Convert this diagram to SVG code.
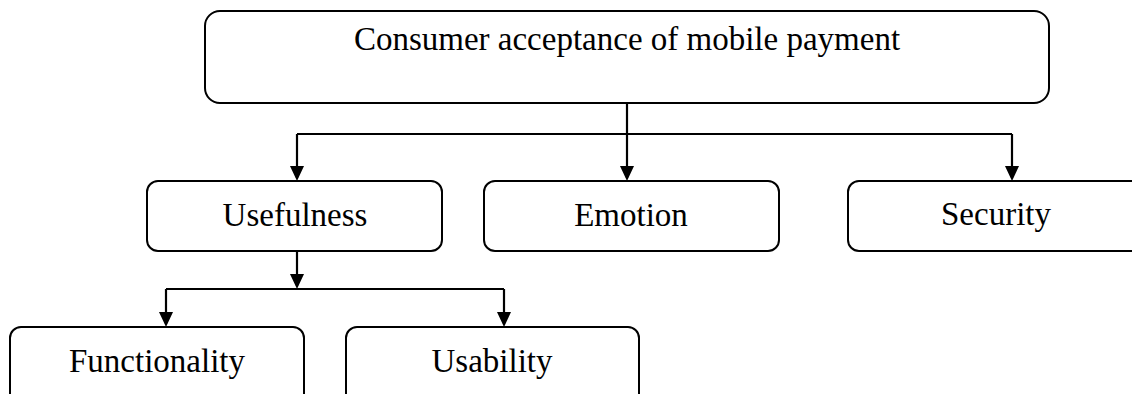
<svg xmlns="http://www.w3.org/2000/svg" width="1132" height="394" viewBox="0 0 1132 394">
  <style>
    .box { fill: #ffffff; stroke: #000000; stroke-width: 2; }
    .lbl { font-family: "Liberation Serif", "Times New Roman", serif; font-size: 33px; fill: #000000; text-anchor: middle; }
    .conn { fill: none; stroke: #000000; stroke-width: 2.2; }
  </style>
  <defs>
    <marker id="arrow" markerUnits="userSpaceOnUse" markerWidth="16" markerHeight="14" refX="12" refY="7" orient="auto">
      <path d="M0,0 L15,7 L0,14 z" fill="#000000"/>
    </marker>
  </defs>
  <rect width="1132" height="394" fill="#ffffff"/>

  <g id="connectors">
    <path class="conn" d="M627,103 V178" marker-end="url(#arrow)"/>
    <path class="conn" d="M297,134 H1012"/>
    <path class="conn" d="M297,134 V178" marker-end="url(#arrow)"/>
    <path class="conn" d="M1012,134 V178" marker-end="url(#arrow)"/>
    <path class="conn" d="M297,251 V286" marker-end="url(#arrow)"/>
    <path class="conn" d="M166,289 H504"/>
    <path class="conn" d="M166,289 V324" marker-end="url(#arrow)"/>
    <path class="conn" d="M504,289 V324" marker-end="url(#arrow)"/>
  </g>

  <g id="node-consumer-acceptance">
    <rect class="box" x="205" y="11" width="844" height="92" rx="15" ry="15"/>
    <text class="lbl" x="627" y="50">Consumer acceptance of mobile payment</text>
  </g>
  <g id="node-usefulness">
    <rect class="box" x="147" y="181" width="295" height="70" rx="11" ry="11"/>
    <text class="lbl" x="295" y="226">Usefulness</text>
  </g>
  <g id="node-emotion">
    <rect class="box" x="484" y="181" width="295" height="70" rx="11" ry="11"/>
    <text class="lbl" x="631" y="226">Emotion</text>
  </g>
  <g id="node-security">
    <rect class="box" x="848" y="181" width="295" height="70" rx="11" ry="11"/>
    <text class="lbl" x="996" y="225">Security</text>
  </g>
  <g id="node-functionality">
    <rect class="box" x="10" y="327" width="294" height="80" rx="11" ry="11"/>
    <text class="lbl" x="157" y="372">Functionality</text>
  </g>
  <g id="node-usability">
    <rect class="box" x="346" y="327" width="293" height="80" rx="11" ry="11"/>
    <text class="lbl" x="492" y="372">Usability</text>
  </g>
</svg>
